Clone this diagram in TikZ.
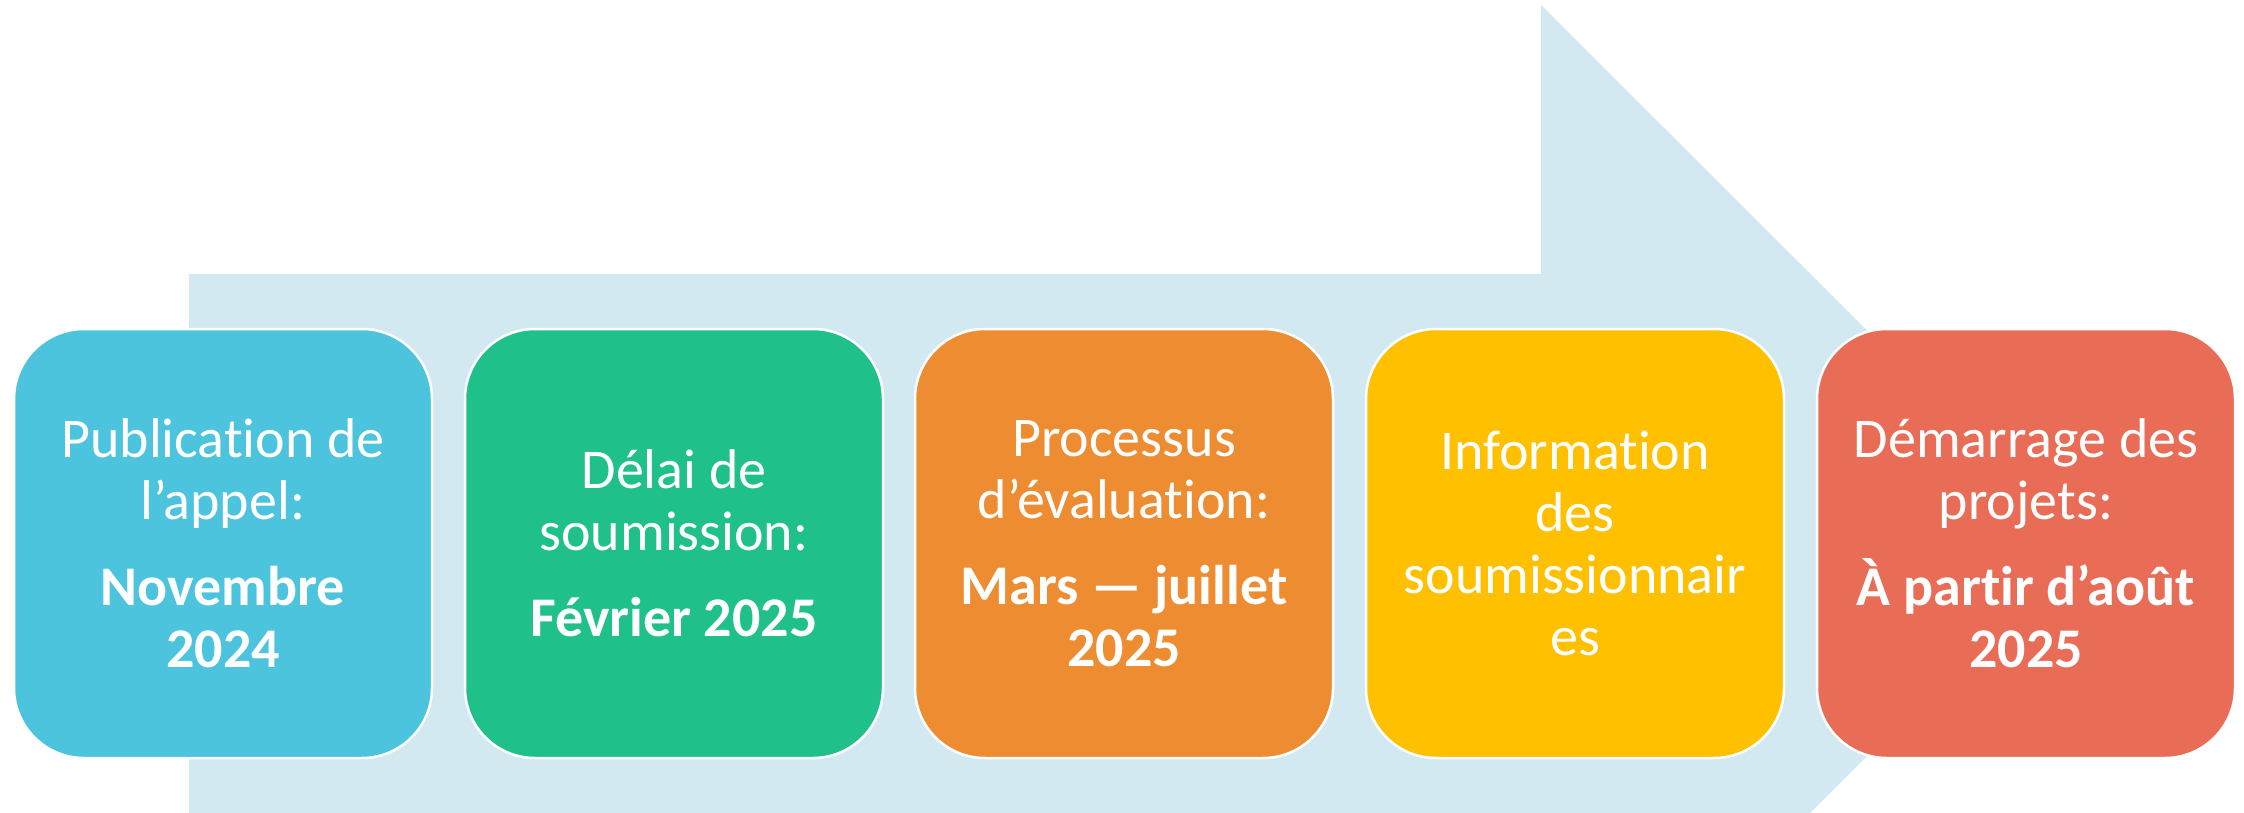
\documentclass[tikz,border=0pt]{standalone}
\usepackage{fontspec}
\setmainfont{Carlito}[Ligatures=NoCommon]
\definecolor{band}{HTML}{D2E9F2}
\definecolor{cA}{HTML}{4DC4DD}
\definecolor{cB}{HTML}{20C08A}
\definecolor{cC}{HTML}{ED8C31}
\definecolor{cD}{HTML}{FFC000}
\definecolor{cE}{HTML}{E86C56}
\tikzset{
  stage/.style={draw=white, line width=2.5pt, rounded corners=70pt,
    minimum width=418pt, minimum height=429pt, inner sep=0pt,
    text=white, align=center, font=\fontsize{56}{62}\selectfont}
}
\begin{document}
\begin{tikzpicture}[x=1pt,y=-1pt]
\useasboundingbox (0,0) rectangle (2244,813);
\fill[band] (189,274) -- (1541,274) -- (1541,5) -- (2080,543) -- (1810,813) -- (189,813) -- cycle;
\node[stage, fill=cA] (s1) at (223,543.5) {Publication de\\l’appel:\\[24pt]\textbf{Novembre}\\\textbf{2024}};
\node[stage, fill=cB] (s2) at (674,543.5) {Délai de\\soumission:\\[24pt]\textbf{Février 2025}};
\node[stage, fill=cC] (s3) at (1124,543.5) {Processus\\d’évaluation:\\[24pt]\textbf{Mars — juillet}\\\textbf{2025}};
\node[stage, fill=cD] (s4) at (1575,543.5) {Information\\des\\soumissionnair\\es};
\node[stage, fill=cE] (s5) at (2026,543.5) {Démarrage des\\projets:\\[24pt]\textbf{À partir d’août}\\\textbf{2025}};
\end{tikzpicture}
\end{document}
